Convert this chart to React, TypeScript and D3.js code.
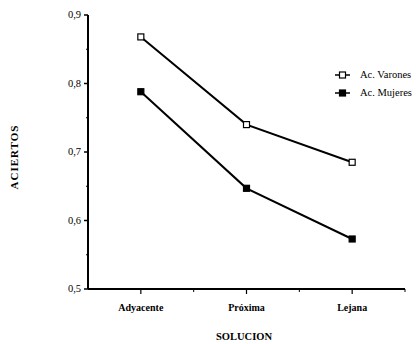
import React, { useRef, useEffect } from "react";
import * as d3 from "d3";

const categories = ["Adyacente", "Próxima", "Lejana"];
const varones = [0.868, 0.74, 0.685];
const mujeres = [0.788, 0.647, 0.573];
const yTicks = [0.5, 0.6, 0.7, 0.8, 0.9];
const yMinor = [0.55, 0.65, 0.75, 0.85];
const seriesNames = ["Ac. Varones", "Ac. Mujeres"];

const App = () => {
  const svgRef = useRef<SVGSVGElement>(null);

  useEffect(() => {
    const width = 418, height = 344;
    const font = "'Liberation Serif', 'Times New Roman', serif";

    const svg = d3.select(svgRef.current)
      .attr("width", width)
      .attr("height", height)
      .style("background", "#fff");
    svg.selectAll("*").remove();

    const x = d3.scaleBand().domain(categories).range([88, 405]);
    const y = d3.scaleLinear().domain([0.5, 0.9]).range([289, 15]);
    const cx = (c: string) => x(c)! + x.bandwidth() / 2;

    // y axis
    const yAxis = svg.append("g").attr("transform", "translate(88,0)");
    yAxis.append("line").attr("y1", y(0.9)).attr("y2", y(0.5))
      .attr("stroke", "#000").attr("stroke-width", 2);
    yAxis.selectAll(".maj").data(yTicks).enter().append("line")
      .attr("x1", -4).attr("x2", 0)
      .attr("y1", d => y(d)).attr("y2", d => y(d))
      .attr("stroke", "#000").attr("stroke-width", 1.5);
    yAxis.selectAll(".min").data(yMinor).enter().append("line")
      .attr("x1", -2).attr("x2", 0)
      .attr("y1", d => y(d)).attr("y2", d => y(d))
      .attr("stroke", "#000").attr("stroke-width", 1);
    yAxis.selectAll("text").data(yTicks).enter().append("text")
      .attr("x", -7).attr("y", d => y(d)).attr("dy", "0.32em")
      .attr("text-anchor", "end")
      .style("font-family", font).style("font-size", "10.5px")
      .text(d => d3.format(".1f")(d).replace(".", ","));

    // x axis
    const xAxis = svg.append("g").attr("transform", "translate(0,289)");
    xAxis.append("line").attr("x1", 88).attr("x2", 405)
      .attr("stroke", "#000").attr("stroke-width", 2);
    xAxis.selectAll(".maj").data(categories).enter().append("line")
      .attr("x1", d => cx(d)).attr("x2", d => cx(d))
      .attr("y1", 0).attr("y2", 5)
      .attr("stroke", "#000").attr("stroke-width", 1.2);
    xAxis.selectAll(".min").data(categories.slice(1).concat(["end"])).enter().append("line")
      .attr("x1", d => d === "end" ? 405 : x(d)!)
      .attr("x2", d => d === "end" ? 405 : x(d)!)
      .attr("y1", 0).attr("y2", 3)
      .attr("stroke", "#000").attr("stroke-width", 1);
    xAxis.selectAll("text").data(categories).enter().append("text")
      .attr("x", d => cx(d)).attr("y", 22)
      .attr("text-anchor", "middle")
      .style("font-family", font).style("font-size", "10px")
      .style("font-weight", "bold")
      .text(d => d);

    // axis titles
    svg.append("text")
      .attr("transform", "translate(18,157) rotate(-90)")
      .attr("text-anchor", "middle")
      .style("font-family", font).style("font-size", "11px")
      .style("font-weight", "bold").style("letter-spacing", "1px")
      .text("ACIERTOS");
    svg.append("text")
      .attr("x", 244).attr("y", 340)
      .attr("text-anchor", "middle")
      .style("font-family", font).style("font-size", "10.5px")
      .style("font-weight", "bold")
      .text("SOLUCION");

    const line = d3.line<number>()
      .x((d, i) => cx(categories[i]))
      .y(d => y(d));

    const series = [varones, mujeres];
    series.forEach((vals, si) => {
      svg.append("path").datum(vals)
        .attr("d", line)
        .attr("fill", "none")
        .attr("stroke", "#000")
        .attr("stroke-width", 2);
      svg.selectAll(".pt" + si).data(vals).enter().append("rect")
        .attr("x", (d, i) => cx(categories[i]) - 3)
        .attr("y", d => y(d) - 3)
        .attr("width", 6).attr("height", 6)
        .attr("fill", si === 0 ? "#fff" : "#000")
        .attr("stroke", "#000").attr("stroke-width", 1.2);
    });

    // legend
    const legend = svg.append("g").attr("transform", "translate(335,75)");
    seriesNames.forEach((name, i) => {
      const g = legend.append("g").attr("transform", `translate(0,${i * 18})`);
      g.append("line").attr("x1", 0).attr("x2", 15)
        .attr("stroke", "#000").attr("stroke-width", 1.5);
      g.append("rect").attr("x", 4.5).attr("y", -3).attr("width", 6).attr("height", 6)
        .attr("fill", i === 0 ? "#fff" : "#000")
        .attr("stroke", "#000").attr("stroke-width", 1.2);
      g.append("text").attr("x", 25).attr("dy", "0.32em")
        .style("font-family", font).style("font-size", "10.5px")
        .text(name);
    });
  }, []);

  return (
    <div style={{ position: "absolute", left: 0, top: 0 }}>
      <svg ref={svgRef}></svg>
    </div>
  );
};

export default App;
